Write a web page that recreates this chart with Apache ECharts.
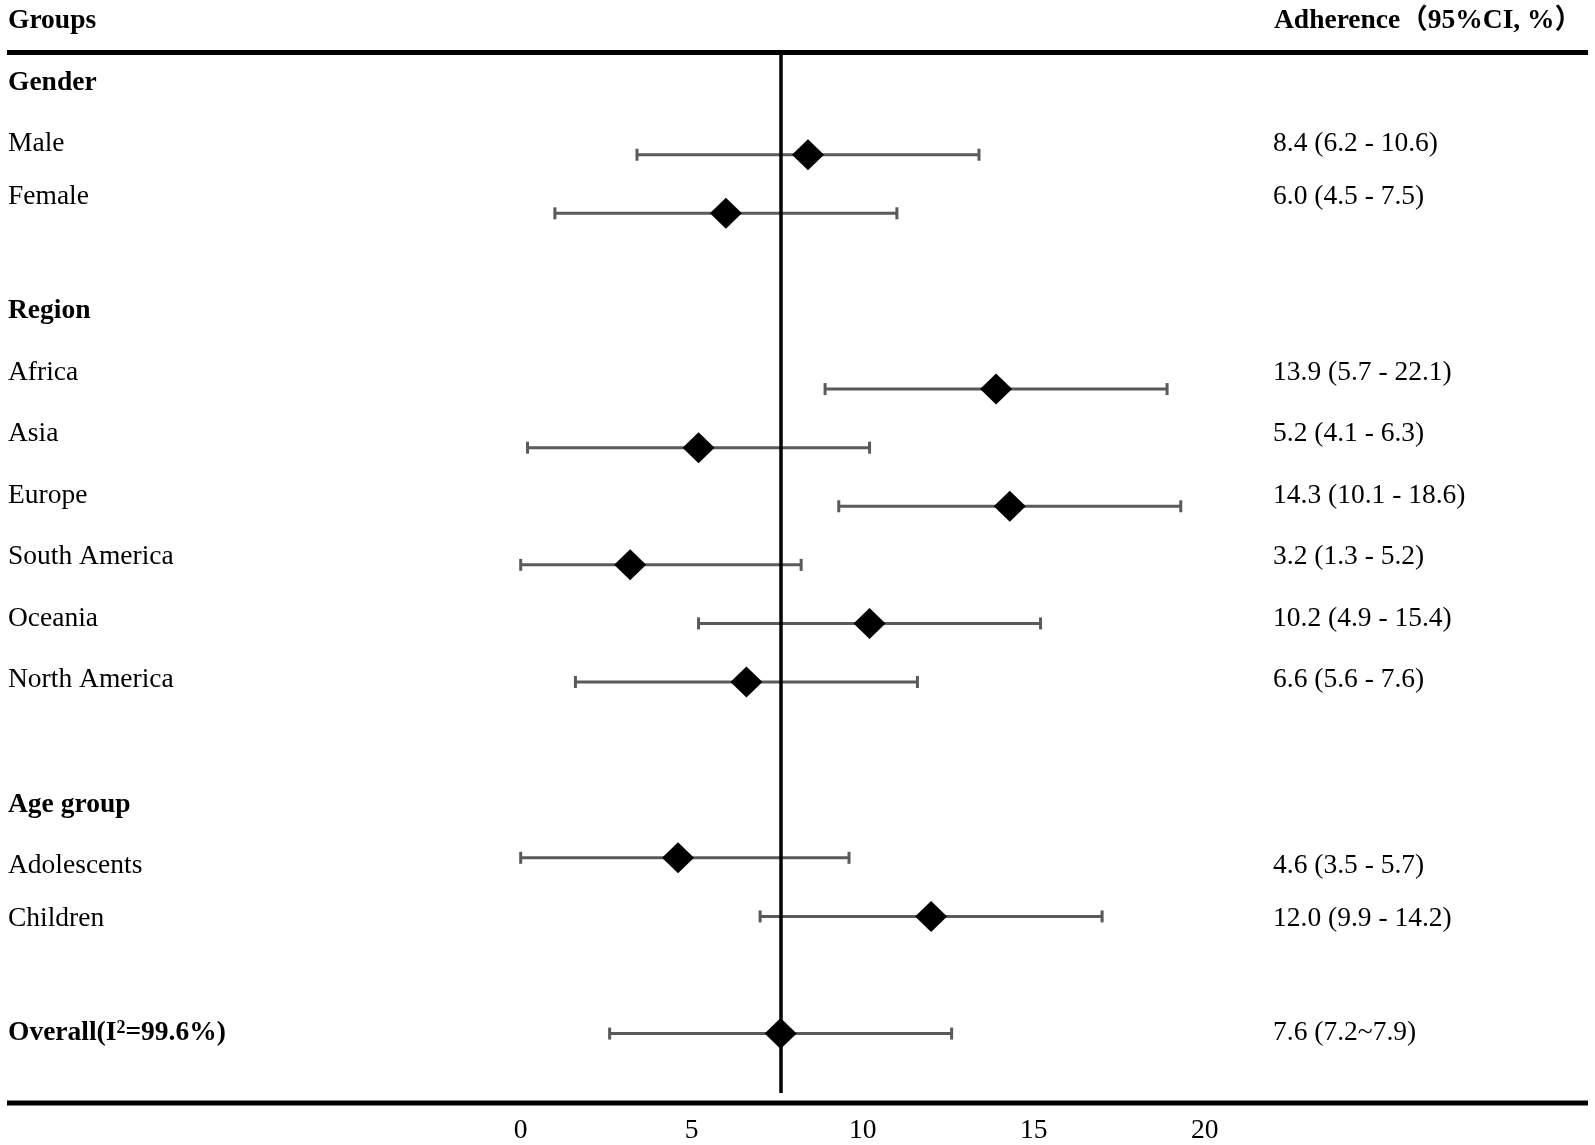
<!DOCTYPE html>
<html>
<head>
<meta charset="utf-8">
<script src="https://cdn.jsdelivr.net/npm/echarts@6/dist/echarts.min.js"></script>
<style>
  html, body { margin: 0; padding: 0; background: #fff; }
  #chart { width: 1595px; height: 1145px; }
</style>
</head>
<body>
<div id="chart"></div>
<script>
// rows of the forest plot (top to bottom)
var groups = ['Male', 'Female', 'Africa', 'Asia', 'Europe', 'South America', 'Oceania',
              'North America', 'Adolescents', 'Children', 'Overall'];
// row index on the vertical scale (blank rows are the gaps between sections)
var rowIndex = [0, 1, 4, 5, 6, 7, 8, 9, 12, 13, 15];
var estimate = [8.4, 6.0, 13.9, 5.2, 14.3, 3.2, 10.2, 6.6, 4.6, 12.0, 7.6];
// whiskers as drawn in the picture
var lower = [3.4, 1.0, 8.9, 0.2, 9.3, 0.0, 5.2, 1.6, 0.0, 7.0, 2.6];
var upper = [13.4, 11.0, 18.9, 10.2, 19.3, 8.2, 15.2, 11.6, 9.6, 17.0, 12.6];
var ciText = ['8.4 (6.2 - 10.6)', '6.0 (4.5 - 7.5)', '13.9 (5.7 - 22.1)', '5.2 (4.1 - 6.3)',
              '14.3 (10.1 - 18.6)', '3.2 (1.3 - 5.2)', '10.2 (4.9 - 15.4)', '6.6 (5.6 - 7.6)',
              '4.6 (3.5 - 5.7)', '12.0 (9.9 - 14.2)', '7.6 (7.2~7.9)'];
var sectionTitles = ['Gender', 'Region', 'Age group'];
var overallLabel = 'Overall(I{sup|2}=99.6%)';
var xMin = 0, xMax = 20, xStep = 5;

// text layout (pixel rows of the side columns)
var FONT = "'Liberation Serif', 'Times New Roman', 'Noto Sans CJK SC', serif";
var FS = 27.5;
var sectionY = [83, 311, 805];
var rowTextY = [144, 197, 373, 434, 496, 557, 619, 680, 866, 919, 1033];

var myChart = echarts.init(document.getElementById('chart'));

var graphics = [];
function addText(str, x, y, bold) {
  graphics.push({
    type: 'text', x: x, y: y, silent: true,
    style: {
      text: str, fontFamily: FONT, fontSize: FS, fontWeight: bold ? 'bold' : 'normal',
      fill: '#000', align: 'left', verticalAlign: 'middle', lineHeight: 28,
      rich: {
        sup: { fontFamily: FONT, fontSize: 18, fontWeight: 'bold', fill: '#000',
               verticalAlign: 'top', lineHeight: 28, padding: [0, 0, 10, 0] }
      }
    }
  });
}
addText('Groups', 8, 21, true);
addText('Adherence\uff0895%CI, %\uff09', 1274, 21, true);
sectionTitles.forEach(function (t, i) { addText(t, 8, sectionY[i], true); });
groups.forEach(function (g, i) {
  var isOverall = g === 'Overall';
  addText(isOverall ? overallLabel : g, 8, rowTextY[i], isOverall);
  addText(ciText[i], 1273, rowTextY[i], false);
});
// top and bottom rules
graphics.push({ type: 'line', silent: true, shape: { x1: 7, y1: 52.5, x2: 1588, y2: 52.5 },
                style: { stroke: '#000', lineWidth: 5 } });
graphics.push({ type: 'line', silent: true, shape: { x1: 7, y1: 1103, x2: 1588, y2: 1103 },
                style: { stroke: '#000', lineWidth: 5 } });

var barData = groups.map(function (g, i) { return [lower[i], upper[i], rowIndex[i]]; });
var pointData = groups.map(function (g, i) { return [estimate[i], rowIndex[i]]; });

var option = {
  backgroundColor: '#fff',
  animation: false,
  grid: { left: 520.7, right: 390.3, top: 53, bottom: 52 },
  xAxis: {
    type: 'value', min: xMin, max: xMax, interval: xStep,
    axisLine: { show: false }, axisTick: { show: false }, splitLine: { show: false },
    axisLabel: { fontFamily: FONT, fontSize: FS, color: '#000', margin: 24, lineHeight: 27 }
  },
  yAxis: {
    type: 'value', inverse: true, min: -1.736, max: 16.014, show: false,
    splitLine: { show: false }
  },
  graphic: graphics,
  series: [
    {
      type: 'custom', z: 1,
      encode: { x: [0, 1], y: 2 },
      data: barData,
      renderItem: function (params, api) {
        var row = api.value(2);
        var p1 = api.coord([api.value(0), row]);
        var p2 = api.coord([api.value(1), row]);
        var st = { stroke: '#5a5a5a', lineWidth: 3 };
        return {
          type: 'group',
          children: [
            { type: 'line', shape: { x1: p1[0], y1: p1[1], x2: p2[0], y2: p2[1] }, style: st },
            { type: 'line', shape: { x1: p1[0], y1: p1[1] - 6, x2: p1[0], y2: p1[1] + 6 }, style: st },
            { type: 'line', shape: { x1: p2[0], y1: p2[1] - 6, x2: p2[0], y2: p2[1] + 6 }, style: st }
          ]
        };
      }
    },
    {
      type: 'scatter', z: 3,
      symbol: 'diamond', symbolSize: [32, 31],
      itemStyle: { color: '#000', opacity: 1 },
      data: pointData,
      markLine: {
        silent: true, symbol: ['none', 'none'], label: { show: false },
        lineStyle: { color: '#000', width: 3.5, type: 'solid', opacity: 1 },
        data: [{ xAxis: estimate[estimate.length - 1] }]
      }
    }
  ]
};
myChart.setOption(option);
</script>
</body>
</html>
